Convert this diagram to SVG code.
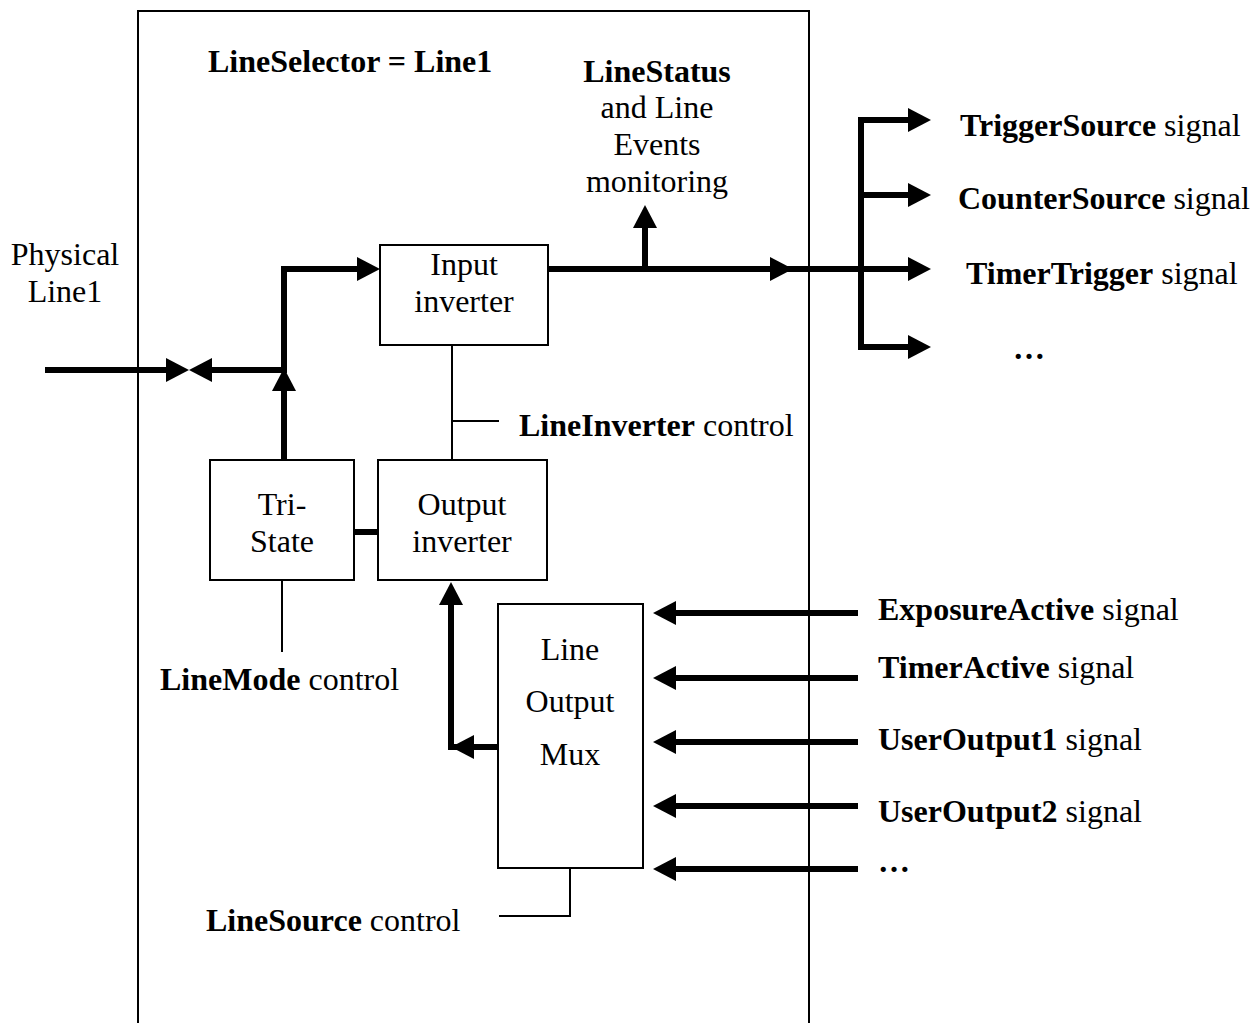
<svg xmlns="http://www.w3.org/2000/svg" xmlns:xlink="http://www.w3.org/1999/xlink" width="1260" height="1023" viewBox="0 0 1260 1023">
<style>
text{font-family:"Liberation Serif","Times New Roman",serif;font-size:32px;fill:#000}
.b{font-weight:bold}
.c{text-anchor:middle}
.box{fill:#fff;stroke:#000;stroke-width:2}
.thick{fill:none;stroke:#000;stroke-width:6;stroke-linejoin:miter}
.thin{fill:none;stroke:#000;stroke-width:2}
</style>
<defs>
<path id="ah" d="M0,0 L-23,-12 L-23,12 Z" fill="#000"/>
</defs>
<rect id="frame" x="138" y="11" width="671" height="1040" fill="none" stroke="#000" stroke-width="2"/>
<text class="b" x="208" y="72">LineSelector = Line1</text>
<g id="connectors">
<path class="thick" d="M45,370 H172"/>
<use xlink:href="#ah" transform="translate(189,370)"/>
<path class="thick" d="M360,269 H284 V370 H206"/>
<use xlink:href="#ah" transform="translate(189,370) rotate(180)"/>
<use xlink:href="#ah" transform="translate(380,269)"/>
<path class="thick" d="M284,460 V385"/>
<use xlink:href="#ah" transform="translate(284,368) rotate(-90)"/>
<path class="thick" d="M548,269 H861"/>
<use xlink:href="#ah" transform="translate(793,269)"/>
<path class="thick" d="M645,269 V222"/>
<use xlink:href="#ah" transform="translate(645,205) rotate(-90)"/>
<path class="thick" d="M912,120 H861 V347 H912"/>
<path class="thick" d="M861,195 H912"/>
<path class="thick" d="M861,269 H912"/>
<use xlink:href="#ah" transform="translate(931,120)"/>
<use xlink:href="#ah" transform="translate(931,195)"/>
<use xlink:href="#ah" transform="translate(931,269)"/>
<use xlink:href="#ah" transform="translate(931,347)"/>
<path class="thick" d="M354,532 H378"/>
<path class="thick" d="M498,747 H451 V600"/>
<use xlink:href="#ah" transform="translate(451,582) rotate(-90)"/>
<use xlink:href="#ah" transform="translate(451,747) rotate(180)"/>
<path class="thick" d="M858,613 H672"/>
<path class="thick" d="M858,678 H672"/>
<path class="thick" d="M858,742 H672"/>
<path class="thick" d="M858,806 H672"/>
<path class="thick" d="M858,869 H672"/>
<use xlink:href="#ah" transform="translate(653,613) rotate(180)"/>
<use xlink:href="#ah" transform="translate(653,678) rotate(180)"/>
<use xlink:href="#ah" transform="translate(653,742) rotate(180)"/>
<use xlink:href="#ah" transform="translate(653,806) rotate(180)"/>
<use xlink:href="#ah" transform="translate(653,869) rotate(180)"/>
<path class="thin" d="M452,345 V460 M452,421 H499"/>
<path class="thin" d="M282,580 V652"/>
<path class="thin" d="M570,868 V916 H499"/>
</g>
<g id="physical-line">
<text class="c" x="65" y="265">Physical</text>
<text class="c" x="65" y="302">Line1</text>
</g>
<g id="input-inverter">
<rect class="box" x="380" y="245" width="168" height="100"/>
<text class="c" x="464" y="275">Input</text>
<text class="c" x="464" y="312">inverter</text>
</g>
<g id="tri-state">
<rect class="box" x="210" y="460" width="144" height="120"/>
<text class="c" x="282" y="515">Tri-</text>
<text class="c" x="282" y="552">State</text>
</g>
<g id="output-inverter">
<rect class="box" x="378" y="460" width="169" height="120"/>
<text class="c" x="462" y="515">Output</text>
<text class="c" x="462" y="552">inverter</text>
</g>
<g id="line-output-mux">
<rect class="box" x="498" y="604" width="145" height="264"/>
<text class="c" x="570" y="660">Line</text>
<text class="c" x="570" y="712">Output</text>
<text class="c" x="570" y="765">Mux</text>
</g>
<g id="monitoring">
<text class="c b" x="657" y="82">LineStatus</text>
<text class="c" x="657" y="118">and Line</text>
<text class="c" x="657" y="155">Events</text>
<text class="c" x="657" y="192">monitoring</text>
</g>
<g id="controls">
<text x="519" y="436"><tspan class="b">LineInverter</tspan> control</text>
<text x="160" y="690"><tspan class="b">LineMode</tspan> control</text>
<text x="206" y="931"><tspan class="b">LineSource</tspan> control</text>
</g>
<g id="outputs">
<text x="960" y="136"><tspan class="b">TriggerSource</tspan> signal</text>
<text x="958" y="209"><tspan class="b">CounterSource</tspan> signal</text>
<text x="966" y="284"><tspan class="b">TimerTrigger</tspan> signal</text>
<text class="b" x="1013" y="359">…</text>
</g>
<g id="inputs">
<text x="878" y="620"><tspan class="b">ExposureActive</tspan> signal</text>
<text x="878" y="678"><tspan class="b">TimerActive</tspan> signal</text>
<text x="878" y="750"><tspan class="b">UserOutput1</tspan> signal</text>
<text x="878" y="822"><tspan class="b">UserOutput2</tspan> signal</text>
<text class="b" x="878" y="872">…</text>
</g>
</svg>
